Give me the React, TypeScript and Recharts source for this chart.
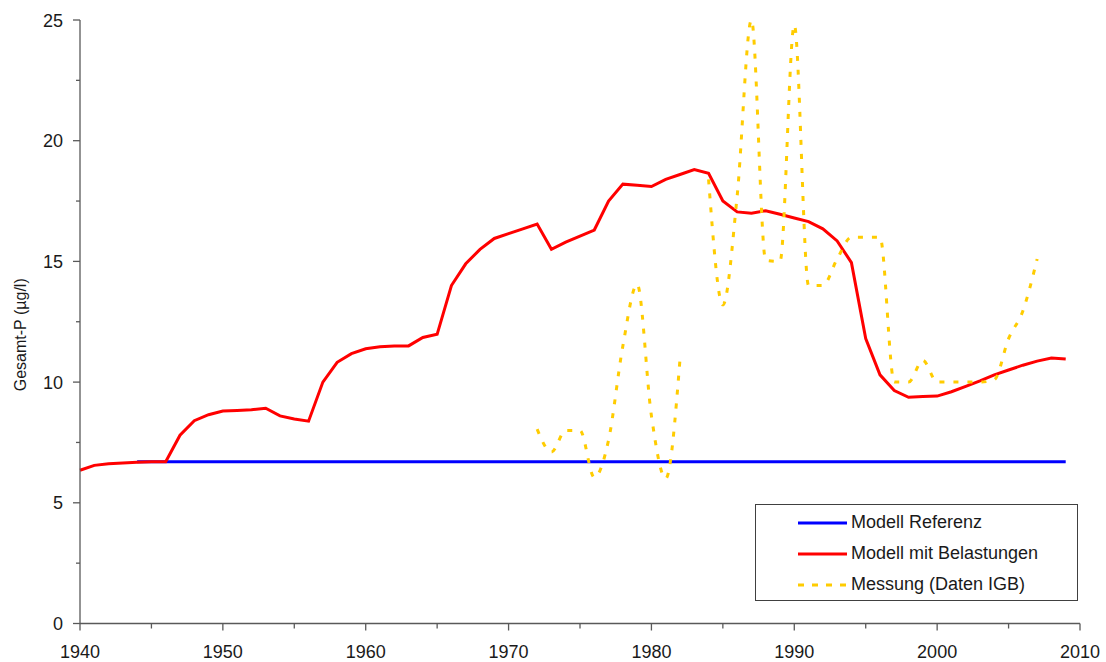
import { LineChart, Line, XAxis, YAxis, Legend, Label } from "recharts";

// Gesamt-P Verlauf 1940-2009
const modelYears = [
  1940, 1941, 1942, 1943, 1944, 1945, 1946, 1947, 1948, 1949,
  1950, 1951, 1952, 1953, 1954, 1955, 1956, 1957, 1958, 1959,
  1960, 1961, 1962, 1963, 1964, 1965, 1966, 1967, 1968, 1969,
  1970, 1971, 1972, 1973, 1974, 1975, 1976, 1977, 1978, 1979,
  1980, 1981, 1982, 1983, 1984, 1985, 1986, 1987, 1988, 1989,
  1990, 1991, 1992, 1993, 1994, 1995, 1996, 1997, 1998, 1999,
  2000, 2001, 2002, 2003, 2004, 2005, 2006, 2007, 2008, 2009,
];
const belastungValues = [
  6.35, 6.55, 6.62, 6.65, 6.68, 6.7, 6.7, 7.8, 8.4, 8.65,
  8.8, 8.82, 8.85, 8.92, 8.6, 8.47, 8.38, 10.0, 10.82, 11.18,
  11.38, 11.46, 11.5, 11.5, 11.85, 11.98, 14.0, 14.9, 15.5, 15.95,
  16.15, 16.35, 16.55, 15.5, 15.8, 16.05, 16.3, 17.5, 18.2, 18.15,
  18.1, 18.4, 18.6, 18.8, 18.65, 17.5, 17.05, 17.0, 17.1, 16.95,
  16.8, 16.65, 16.35, 15.85, 14.95, 11.8, 10.3, 9.65, 9.37, 9.4,
  9.42, 9.6, 9.82, 10.05, 10.3, 10.5, 10.7, 10.87, 11.0, 10.96,
];

const referenzYears = [1944, 2009];
const referenzValues = [6.7, 6.7];

const messungYears = [
  1972, 1973, 1974, 1975, 1976, 1977, 1978, 1979, 1980, 1981, 1982, 1983,
  1984, 1985, 1986, 1987, 1988, 1989, 1990, 1991, 1992, 1993, 1994, 1995,
  1996, 1997, 1998, 1999, 2000, 2001, 2002, 2003, 2004, 2005, 2006, 2007,
];
const messungValues = [
  8.05, 7.1, 8.0, 8.0, 6.05, 7.6, 11.5, 14.05, 8.6, 6.0, 10.95, null,
  18.4, 13.2, 17.7, 25.0, 15.05, 15.0, 24.8, 14.0, 14.0, 15.1, 16.0, 16.0,
  16.0, 10.0, 10.0, 10.9, 10.0, 10.0, 10.0, 10.0, 10.1, 11.8, 12.95, 15.1,
];

const xTicks = [1940, 1945, 1950, 1955, 1960, 1965, 1970, 1975, 1980, 1985, 1990, 1995, 2000, 2005, 2010];
const yTicks = [0, 2.5, 5, 7.5, 10, 12.5, 15, 17.5, 20, 22.5, 25];

const belastungData = modelYears.map((year, i) => ({ year, value: belastungValues[i] }));
const referenzData = referenzYears.map((year, i) => ({ year, value: referenzValues[i] }));
const messungData = messungYears.map((year, i) => ({ year, value: messungValues[i] }));

const font = "'Liberation Sans', Arial, sans-serif";
const axisColor = "#595959";
const textColor = "#1a1a1a";

const XTick = ({ x, y, payload }: any) => {
  const major = payload.value % 10 === 0;
  return (
    <g>
      <line x1={x} x2={x} y1={y} y2={y + (major ? 7 : 5)} stroke={axisColor} strokeWidth={1.3} />
      {major && (
        <text x={x} y={y + 34} textAnchor="middle" fontSize={18} fontFamily={font} fill={textColor}>
          {payload.value}
        </text>
      )}
    </g>
  );
};

const YTick = ({ x, y, payload }: any) => {
  const major = payload.value % 5 === 0;
  return (
    <g>
      <line x1={x - (major ? 7 : 4)} x2={x} y1={y} y2={y} stroke={axisColor} strokeWidth={1.3} />
      {major && (
        <text x={x - 17} y={y + 6.5} textAnchor="end" fontSize={18} fontFamily={font} fill={textColor}>
          {payload.value}
        </text>
      )}
    </g>
  );
};

const legendItems = [
  { name: "Modell Referenz", color: "#0000ff", dash: undefined },
  { name: "Modell mit Belastungen", color: "#ff0000", dash: undefined },
  { name: "Messung (Daten IGB)", color: "#ffcc00", dash: "6 8" },
];

const LegendBox = () => (
  <div
    style={{
      width: 321,
      height: 93,
      border: "1px solid #404040",
      background: "#fff",
      fontFamily: font,
      fontSize: 18,
      color: textColor,
      paddingTop: 2,
    }}
  >
    {legendItems.map((item) => (
      <div key={item.name} style={{ display: "flex", alignItems: "center", height: 31 }}>
        <svg width={49} height={6} style={{ marginLeft: 42, marginRight: 4 }}>
          <line x1={0} x2={49} y1={3} y2={3} stroke={item.color} strokeWidth={3} strokeDasharray={item.dash} />
        </svg>
        <span>{item.name}</span>
      </div>
    ))}
  </div>
);

export default function App() {
  return (
    <div style={{ position: "absolute", left: 0, top: 0, background: "#fff" }}>
      <LineChart width={1106} height={662} margin={{ top: 20, right: 26, left: 0, bottom: 0 }}>
        <XAxis
          type="number"
          dataKey="year"
          domain={[1940, 2010]}
          ticks={xTicks}
          interval={0}
          height={38.5}
          tickSize={0}
          tickMargin={0}
          tickLine={false}
          tick={<XTick />}
          stroke={axisColor}
          strokeWidth={1.3}
          allowDuplicatedCategory={false}
        />
        <YAxis
          type="number"
          domain={[0, 25]}
          ticks={yTicks}
          interval={0}
          width={80}
          tickSize={0}
          tickMargin={0}
          tickLine={false}
          tick={<YTick />}
          stroke={axisColor}
          strokeWidth={1.3}
        >
          <Label
            content={({ viewBox }: any) => {
              const cx = 20;
              const cy = viewBox.y + viewBox.height / 2 + 13;
              return (
                <text
                  x={cx}
                  y={cy}
                  transform={`rotate(-90 ${cx} ${cy})`}
                  textAnchor="middle"
                  dominantBaseline="central"
                  fontSize={16}
                  fontFamily={font}
                  fill={textColor}
                >
                  Gesamt-P (µg/l)
                </text>
              );
            }}
          />
        </YAxis>
        <Legend
          layout="vertical"
          align="center"
          verticalAlign="middle"
          content={<LegendBox />}
          wrapperStyle={{ left: 755, top: 504, width: 323 }}
        />
        <Line
          data={referenzData}
          dataKey="value"
          name="Modell Referenz"
          type="linear"
          stroke="#0000ff"
          strokeWidth={3}
          dot={false}
          isAnimationActive={false}
        />
        <Line
          data={belastungData}
          dataKey="value"
          name="Modell mit Belastungen"
          type="linear"
          stroke="#ff0000"
          strokeWidth={3}
          dot={false}
          isAnimationActive={false}
        />
        <Line
          data={messungData}
          dataKey="value"
          name="Messung (Daten IGB)"
          type="monotone"
          stroke="#ffcc00"
          strokeWidth={3}
          strokeDasharray="5 9"
          dot={false}
          isAnimationActive={false}
        />
      </LineChart>
    </div>
  );
}
